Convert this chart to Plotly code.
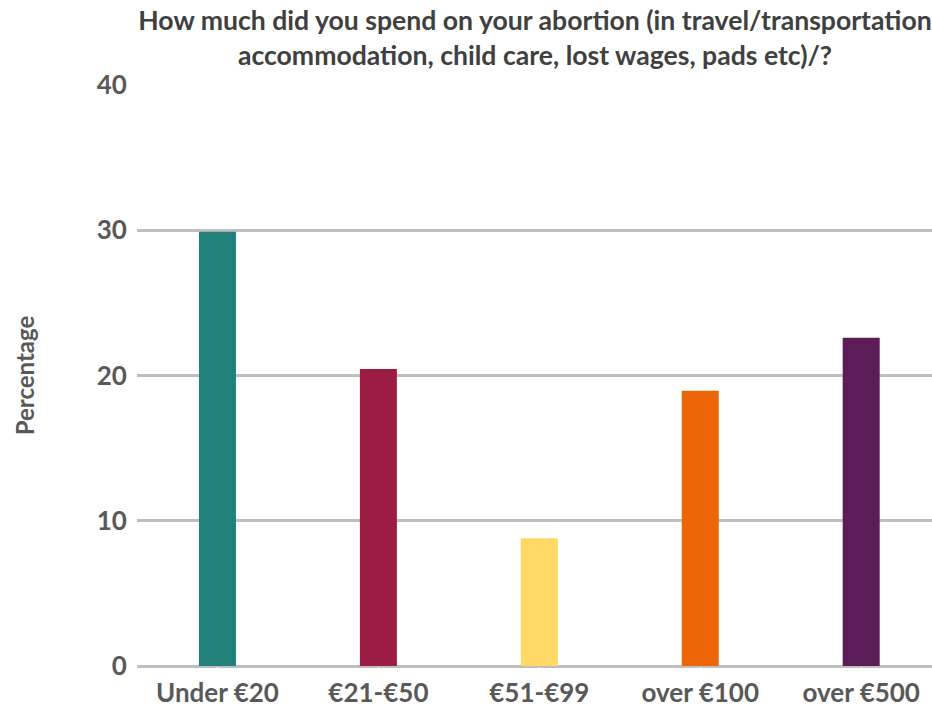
import plotly.graph_objects as go

categories = ["Under €20", "€21-€50", "€51-€99", "over €100", "over €500"]
percentages = [29.9, 20.45, 8.8, 18.95, 22.6]
colors = ["#21807A", "#9B1D44", "#FFD965", "#EC6608", "#5B1C57"]

fig = go.Figure(go.Bar(x=categories, y=percentages, marker_color=colors,
                       marker_line_width=0, width=0.23))

fig.update_layout(
    width=932, height=706,
    margin=dict(l=137, r=0, t=85, b=40),
    plot_bgcolor="white", paper_bgcolor="white",
    font=dict(family="Lato", color="#595959"),
    showlegend=False,
    title=dict(
        text="<b>How much did you spend on your abortion (in travel/transportation<br>accommodation, child care, lost wages, pads etc)/?</b>",
        font=dict(size=26.6, color="#404040"),
        x=535 / 932, xref="container", xanchor="center",
        y=0.957, yref="container", yanchor="top", pad=dict(t=0),
    ),
)
fig.update_xaxes(
    range=[-0.5, 4.44], automargin=False,
    tickfont=dict(size=26, color="#595959", weight="bold"),
    ticks="outside", ticklen=4, tickcolor="white",
    showline=False, showgrid=False,
)
fig.update_yaxes(
    range=[0, 40], tickvals=[0, 10, 20, 30, 40],
    showgrid=True, gridcolor="#BFBFBF", gridwidth=2.5,
    zeroline=True, zerolinecolor="#BFBFBF", zerolinewidth=2.5,
    tickfont=dict(size=26, color="#595959", weight="bold"),
    ticks="outside", ticklen=4, tickcolor="white",
    title=dict(text="<b>Percentage</b>", font=dict(size=24, color="#595959"), standoff=55),
)

# drop the default 8px body margin so the figure fills the window exactly
fig.write_html("out.html", config={"displayModeBar": False},
               post_script="document.body.style.margin = '0';")
